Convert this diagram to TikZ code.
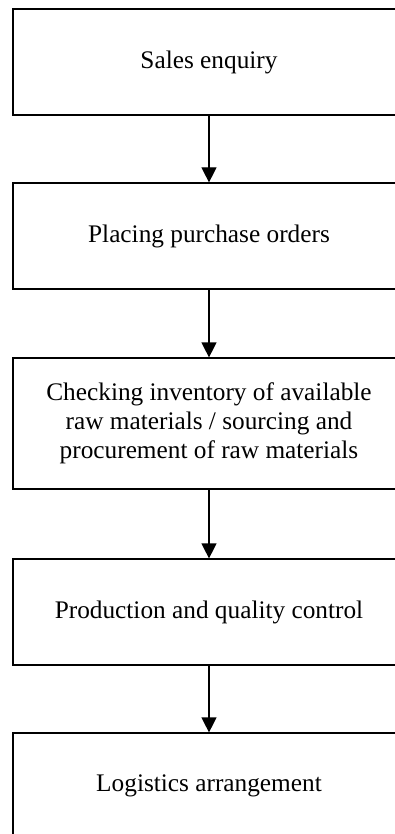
\documentclass[tikz,border=0pt]{standalone}
\usepackage{fontspec}
\setmainfont{Liberation Serif}
\usetikzlibrary{arrows.meta}
\begin{document}
\begin{tikzpicture}[x=1pt,y=-1pt,
  stage/.style={draw, line width=1.2pt, minimum width=392pt, align=center,
    inner sep=0pt, font=\fontsize{25.3}{29}\selectfont},
  flow/.style={line width=1.2pt, -{Triangle[length=15pt,width=15pt]}}]
\useasboundingbox (0,0) rectangle (395,834);
\clip (0,0) rectangle (395,834);
\node[stage, minimum height=106pt] (s1) at (209,62) {Sales enquiry};
\node[stage, minimum height=106pt] (s2) at (209,236) {Placing purchase orders};
\node[stage, minimum height=131pt] (s3) at (209,423.5) {Checking inventory of available\\raw materials / sourcing and\\procurement of raw materials};
\node[stage, minimum height=106pt] (s4) at (209,612) {Production and quality control};
\node[stage, minimum height=106pt] (s5) at (209,786) {Logistics arrangement};
\draw[flow] (s1) -- (s2);
\draw[flow] (s2) -- (s3);
\draw[flow] (s3) -- (s4);
\draw[flow] (s4) -- (s5);
\end{tikzpicture}
\end{document}
